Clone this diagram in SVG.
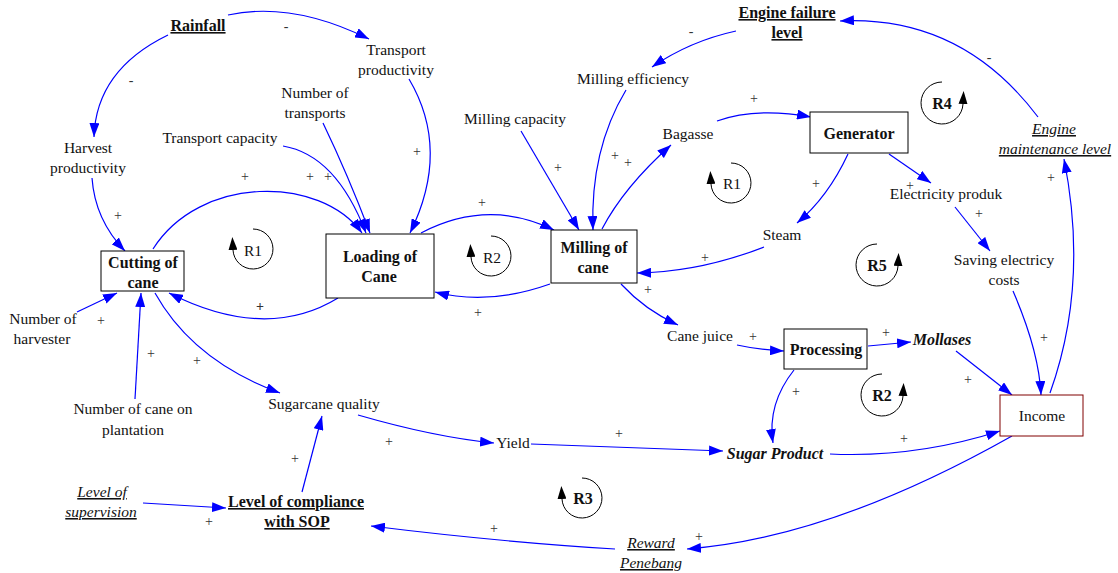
<svg xmlns="http://www.w3.org/2000/svg" width="1118" height="573" viewBox="0 0 1118 573" font-family="'Liberation Serif', 'Times New Roman', serif">
<style>
text{font-family:'Liberation Serif','Times New Roman',serif;font-size:15.5px;fill:#111;text-anchor:middle}
.b{font-weight:bold;font-size:16px}
.i{font-style:italic}
.u{text-decoration:underline}
.s{font-size:14px;fill:#333}
.box{fill:#fff;stroke:#000;stroke-width:1}
.lk{fill:none;stroke:#0000FF;stroke-width:1.2;marker-end:url(#ah)}
.lp{fill:none;stroke:#000;stroke-width:1;marker-end:url(#la)}
</style>
<defs>
<marker id="ah" markerUnits="userSpaceOnUse" markerWidth="14" markerHeight="10" refX="14" refY="5" orient="auto"><path d="M0,0 L14,5 L0,10 z" fill="#0000FF"/></marker>
<marker id="la" markerUnits="userSpaceOnUse" markerWidth="13" markerHeight="9" refX="0" refY="4.5" orient="auto"><path d="M0,0 L13,4.5 L0,9 z" fill="#000"/></marker>
</defs>
<rect width="1118" height="573" fill="#fff"/>

<g id="connectors">
<path class="lk" d="M228,15 Q292,1 369,39"/>
<path class="lk" d="M168,35 Q96,70 94,137"/>
<path class="lk" d="M92,178 Q95,220 125,251"/>
<path class="lk" d="M153,249 C200,175 320,175 362,233"/>
<path class="lk" d="M283,146 Q336,155 366,233"/>
<path class="lk" d="M323,123 Q348,175 370,233"/>
<path class="lk" d="M409,79 Q451,150 410,233"/>
<path class="lk" d="M421,233 Q488,198 554,230"/>
<path class="lk" d="M550,284 Q488,306 435,292"/>
<path class="lk" d="M338,298 Q266,342 169,293"/>
<path class="lk" d="M521,131 L579,230"/>
<path class="lk" d="M626,90 Q590,150 593,230"/>
<path class="lk" d="M602,229 Q624,187 671,145"/>
<path class="lk" d="M736,31 Q690,41 652,67"/>
<path class="lk" d="M717,121 Q756,107 811,117"/>
<path class="lk" d="M848,154 Q828,197 797,223"/>
<path class="lk" d="M764,247 Q700,272 637,273"/>
<path class="lk" d="M889,154 L931,183"/>
<path class="lk" d="M955,207 L990,251"/>
<path class="lk" d="M1038,117 Q961,15 840,21"/>
<path class="lk" d="M1050,393 Q1089,284 1064,159"/>
<path class="lk" d="M1013,291 Q1039,351 1041,395"/>
<path class="lk" d="M621,284 Q645,310 678,325"/>
<path class="lk" d="M737,345 Q760,350 784,351"/>
<path class="lk" d="M868,346 L911,342"/>
<path class="lk" d="M956,351 L1012,395"/>
<path class="lk" d="M794,370 Q767,404 773,443"/>
<path class="lk" d="M830,454 Q915,458 1000,431"/>
<path class="lk" d="M1012,436 Q831,538 687,549"/>
<path class="lk" d="M615,549 Q500,542 371,526"/>
<path class="lk" d="M143,503 L226,508"/>
<path class="lk" d="M302,492 L322,416"/>
<path class="lk" d="M358,415 Q434,437 494,443"/>
<path class="lk" d="M531,444 L723,451"/>
<path class="lk" d="M155,293 Q193,361 280,393"/>
<path class="lk" d="M77,312 L117,293"/>
<path class="lk" d="M135,399 L141,293"/>
</g>

<g id="polarities">
<text class="s" x="286" y="31">-</text>
<text class="s" x="131" y="85">-</text>
<text class="s" x="118" y="220">+</text>
<text class="s" x="245" y="181">+</text>
<text class="s" x="310" y="181">+</text>
<text class="s" x="328" y="181">+</text>
<text class="s" x="417" y="156">+</text>
<text class="s" x="482" y="207">+</text>
<text class="s" x="478" y="317">+</text>
<text class="s" x="260" y="311" font-weight="bold">+</text>
<text class="s" x="558" y="172">+</text>
<text class="s" x="615" y="160">+</text>
<text class="s" x="628" y="167">+</text>
<text class="s" x="691" y="36">-</text>
<text class="s" x="754" y="103">+</text>
<text class="s" x="816" y="188">+</text>
<text class="s" x="705" y="262">+</text>
<text class="s" x="910" y="190">+</text>
<text class="s" x="979" y="218">+</text>
<text class="s" x="989" y="62">-</text>
<text class="s" x="1051" y="182">+</text>
<text class="s" x="1044" y="342">+</text>
<text class="s" x="648" y="294">+</text>
<text class="s" x="753" y="341">+</text>
<text class="s" x="886" y="337">+</text>
<text class="s" x="968" y="384">+</text>
<text class="s" x="796" y="396">+</text>
<text class="s" x="904" y="443">+</text>
<text class="s" x="699" y="541">+</text>
<text class="s" x="494" y="533">+</text>
<text class="s" x="209" y="526">+</text>
<text class="s" x="295" y="463">+</text>
<text class="s" x="389" y="446">+</text>
<text class="s" x="619" y="438">+</text>
<text class="s" x="197" y="365">+</text>
<text class="s" x="101" y="325">+</text>
<text class="s" x="151" y="358">+</text>
</g>

<g id="loops">
<g id="loop-r1a"><path class="lp" d="M253,229 A20,20 0 1 1 233,250"/><text x="253" y="256">R1</text></g>
<g id="loop-r2a"><path class="lp" d="M491,236 A20,20 0 1 1 471,257"/><text x="492" y="263">R2</text></g>
<g id="loop-r1b"><path class="lp" d="M731,163 A20,20 0 1 1 711,184"/><text x="732" y="189">R1</text></g>
<g id="loop-r3"><path class="lp" d="M582,478 A20,20 0 1 1 562,499"/><text class="b" x="583" y="504">R3</text></g>
<g id="loop-r4"><path class="lp" d="M942,82 A21,21 0 1 0 963,104"/><text class="b" x="942" y="109">R4</text></g>
<g id="loop-r5"><path class="lp" d="M877,244 A21,21 0 1 0 898,266"/><text class="b" x="877" y="271">R5</text></g>
<g id="loop-r2b"><path class="lp" d="M882,374 A21,21 0 1 0 903,396"/><text class="b" x="882" y="401">R2</text></g>
</g>

<g id="rainfall"><text class="b u" x="198" y="31">Rainfall</text></g>
<g id="transport-productivity"><text x="396" y="55">Transport</text><text x="396" y="75">productivity</text></g>
<g id="number-of-transports"><text x="315" y="98">Number of</text><text x="315" y="118">transports</text></g>
<g id="transport-capacity"><text x="220" y="143">Transport capacity</text></g>
<g id="harvest-productivity"><text x="88" y="153">Harvest</text><text x="88" y="173">productivity</text></g>
<g id="milling-capacity"><text x="515" y="124">Milling capacity</text></g>
<g id="milling-efficiency"><text x="633" y="84">Milling efficiency</text></g>
<g id="engine-failure-level"><text class="b u" x="787" y="18">Engine failure</text><text class="b u" x="787" y="38">level</text></g>
<g id="bagasse"><text x="688" y="139">Bagasse</text></g>
<g id="electricity-produk"><text x="946" y="199">Electricity produk</text></g>
<g id="steam"><text x="782" y="240">Steam</text></g>
<g id="saving-electricy-costs"><text x="1004" y="265">Saving electricy</text><text x="1004" y="285">costs</text></g>
<g id="engine-maintenance-level"><text class="i u" x="1054" y="134">Engine</text><text class="i u" x="1055" y="154">maintenance level</text></g>
<g id="number-of-harvester"><text x="43" y="324">Number of</text><text x="42" y="344">harvester</text></g>
<g id="number-of-cane"><text x="133" y="414">Number of cane on</text><text x="133" y="435">plantation</text></g>
<g id="sugarcane-quality"><text x="324" y="409">Sugarcane quality</text></g>
<g id="yield"><text x="513" y="448">Yield</text></g>
<g id="sugar-product"><text class="b i" x="775" y="459">Sugar Product</text></g>
<g id="cane-juice"><text x="700" y="341">Cane juice</text></g>
<g id="mollases"><text class="b i" x="942" y="345">Mollases</text></g>
<g id="level-of-supervision"><text class="i u" x="102" y="497">Level of</text><text class="i u" x="101" y="517">supervision</text></g>
<g id="level-of-compliance"><text class="b u" x="296" y="507">Level of compliance</text><text class="b u" x="297" y="527">with SOP</text></g>
<g id="reward-penebang"><text class="i u" x="651" y="548">Reward</text><text class="i u" x="651" y="568">Penebang</text></g>

<g id="cutting-of-cane"><rect class="box" x="101" y="251" width="83" height="40"/><text class="b" x="143" y="268">Cutting of</text><text class="b" x="143" y="288">cane</text></g>
<g id="loading-of-cane"><rect class="box" x="326" y="234" width="108" height="64"/><text class="b" x="380" y="262">Loading of</text><text class="b" x="379" y="282">Cane</text></g>
<g id="milling-of-cane"><rect class="box" x="551" y="230" width="86" height="53"/><text class="b" x="594" y="253">Milling of</text><text class="b" x="593" y="273">cane</text></g>
<g id="generator"><rect class="box" x="810" y="112" width="98" height="41"/><text class="b" x="859" y="139">Generator</text></g>
<g id="processing"><rect class="box" x="784" y="329" width="83" height="40"/><text class="b" x="826" y="355">Processing</text></g>
<g id="income"><rect x="1000" y="395" width="83" height="41" fill="#fff" stroke="#800000" stroke-width="1"/><text x="1042" y="421">Income</text></g>
</svg>
